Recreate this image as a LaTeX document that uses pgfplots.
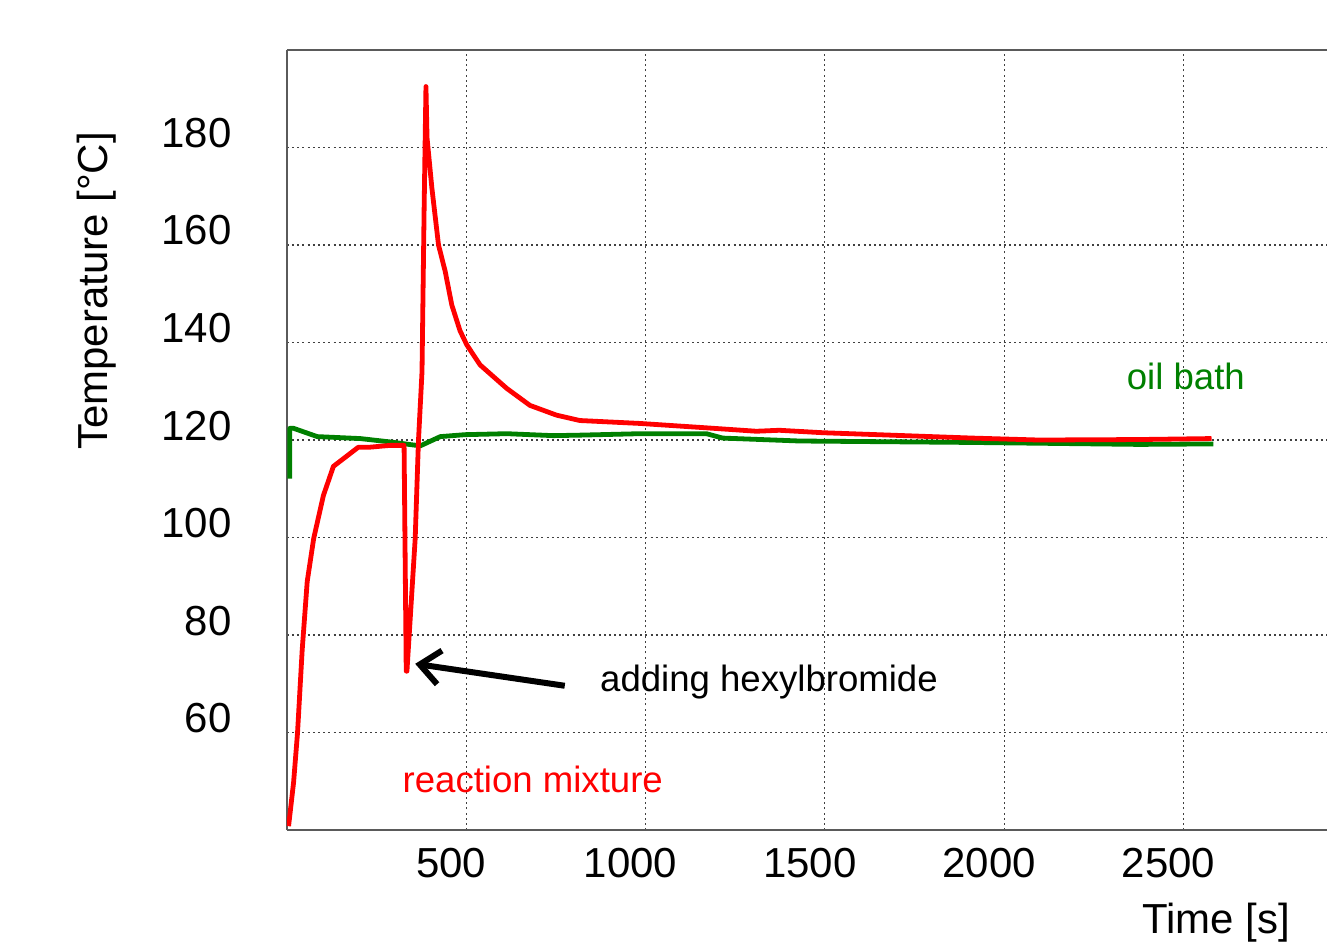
\documentclass[border=0pt]{standalone}
\usepackage{fontspec}
\setmainfont{Liberation Sans}
\usepackage{pgfplots}
\pgfplotsset{compat=1.18}
\usetikzlibrary{arrows.meta}

\definecolor{bathgreen}{RGB}{0,128,0}
\definecolor{framegray}{RGB}{90,90,90}

\begin{document}
\begin{tikzpicture}
\begin{axis}[
  at={(0,0)}, anchor=south west,
  scale only axis, width=520.5pt, height=390.35pt,
  xmin=0, xmax=2900, ymin=40, ymax=200,
  axis y line*=left, axis x line*=box,
  axis line style={-, draw=framegray, line width=1pt},
  xtick={500,1000,1500,2000,2500}, ytick={60,80,100,120,140,160,180},
  tick style={draw=none},
  grid=major, grid style={black!75, line width=0.6pt, dash pattern=on 1pt off 1.6pt},
  /pgf/number format/assume math mode=true,
  /pgf/number format/1000 sep={},
  tick label style={font=\fontsize{21}{25}\selectfont},
  xticklabel style={anchor=base, inner sep=0pt, yshift=-23.8pt, xshift=-7.5pt},
  yticklabel style={anchor=base east, inner sep=0pt, xshift=-27.5pt},
  xlabel={Time [s]},
  xlabel style={at={(axis description cs:0.8934,0)}, anchor=base, inner sep=0pt, yshift=-51.5pt, font=\fontsize{21}{25}\selectfont},
  ylabel={Temperature [°C]},
  ylabel style={at={(axis description cs:0,0.691)}, anchor=base, inner sep=0pt, yshift=89.5pt, font=\fontsize{21}{25}\selectfont},
]
% oil bath
\addplot[bathgreen, line width=2.4pt, line join=round] coordinates {
  (8.5,112.1) (8.5,122.4) (19,122.4) (85,120.7) (205,120.3) (289,119.6)
  (372,118.8) (428,120.7) (497,121.1) (613,121.3) (743,120.9) (817,121.0)
  (985,121.3) (1170,121.3) (1215,120.4) (1429,119.8) (1911,119.5)
  (2375,119.1) (2583,119.2)
};
% reaction mixture
\addplot[red, line width=2.4pt, line join=round] coordinates {
  (5,40.8) (19,49.8) (30,60) (43,77) (57,91) (75,99.8) (102,108.6)
  (130,114.6) (199,118.5) (227,118.5) (288,118.9) (327,118.9)
  (333,72.6) (335,72.6) (358,99.8) (367,119.7) (377,134) (383,168)
  (388,192.5) (391,182) (404.5,171.7) (423,160) (441.6,154.6) (460,147.7)
  (483,142.4) (502,139.5) (539,135.4) (613,130.6) (678,127.1) (752,125.1)
  (817,124.0) (985,123.4) (1170,122.5) (1309,121.8) (1373,122.0)
  (1494,121.5) (1911,120.4) (2097,120.0) (2375,120.1) (2578,120.3)
};
\draw[black, line width=3pt, -{Straight Barb[length=10pt, width=17pt]}]
  (axis cs:775,69.6) -- (axis cs:358,74.1);
\node[anchor=base west, inner sep=0pt, font=\fontsize{18.3}{22}\selectfont]
  at (axis cs:872.7,68.5) {adding hexylbromide};
\node[anchor=base west, inner sep=0pt, text=red, font=\fontsize{18.3}{22}\selectfont]
  at (axis cs:322,47.75) {reaction mixture};
\node[anchor=base west, inner sep=0pt, text=bathgreen, font=\fontsize{18.3}{22}\selectfont]
  at (axis cs:2341,130.4) {oil bath};
\end{axis}
\useasboundingbox (-143.5pt,-53.5pt) rectangle (520.5pt,415.35pt);
\end{tikzpicture}
\end{document}
